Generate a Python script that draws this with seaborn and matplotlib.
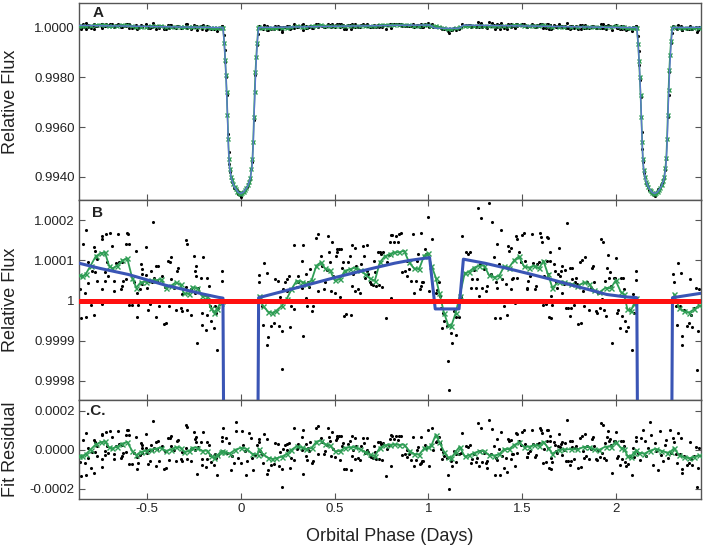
import numpy as np
import pandas as pd
import matplotlib
matplotlib.use("Agg")
import matplotlib.pyplot as plt
import seaborn as sns

# ---------------- data (phase in days, flux offsets in ppm) ----------------
x_ticks = [-0.5, 0, 0.5, 1, 1.5, 2]
x_tick_labels = ["-0.5", "0", "0.5", "1", "1.5", "2"]
a_ticks = [0.9940, 0.9960, 0.9980, 1.0000]
a_tick_labels = ["0.9940", "0.9960", "0.9980", "1.0000"]
b_ticks = [0.9998, 0.9999, 1.0, 1.0001, 1.0002]
b_tick_labels = ["0.9998", "0.9999", "1", "1.0001", "1.0002"]
c_ticks = [-0.0002, 0.0, 0.0002]
c_tick_labels = ["-0.0002", "0.0000", "0.0002"]

# model light curve (blue line): vertices
model_phase = [-0.862, -0.75, -0.6, -0.4, -0.3, -0.2, -0.12, -0.095, -0.088, -0.080, -0.072,
               -0.066, -0.060, -0.050, -0.035, -0.015, 0.0, 0.015, 0.035, 0.050, 0.060, 0.066,
               0.072, 0.080, 0.088, 0.095, 0.3, 0.5, 0.7, 0.82, 0.9, 1.006, 1.036, 1.163, 1.186,
               1.3, 1.42, 1.55, 1.65, 1.75, 1.855, 1.95, 2.05, 2.11, 2.117, 2.125, 2.133, 2.139,
               2.145, 2.155, 2.170, 2.190, 2.205, 2.220, 2.240, 2.255, 2.265, 2.271, 2.277,
               2.285, 2.293, 2.300, 2.452]
model_ppm = [93, 80, 65, 38, 27, 16, 8, 6, -600, -1700, -3300, -4800, -5600, -6100, -6400,
             -6620, -6680, -6620, -6400, -6100, -5600, -4800, -3300, -1700, -600, 7, 32, 57,
             80, 93, 100, 107, -21, -21, 103, 93, 80, 65, 53, 40, 27, 15, 9, 7, -600, -1700,
             -3300, -4800, -5600, -6100, -6400, -6620, -6680, -6620, -6400, -6100, -5600,
             -4800, -3300, -1700, -600, 7, 18]

# out-of-transit observations (black dots), (phase, ppm)
obs_part1 = [(-0.857, 28), (-0.853, -44), (-0.841, 141), (-0.844, 60), (-0.823, 175), (-0.830, 19),
             (-0.823, -41), (-0.812, 95), (-0.816, 43), (-0.800, -10), (-0.795, 74), (-0.782, 133),
             (-0.779, 124), (-0.782, -35), (-0.777, 70), (-0.764, 103), (-0.768, 49), (-0.741, 162),
             (-0.738, 154), (-0.741, -8), (-0.738, 29), (-0.724, 70), (-0.724, 49), (-0.720, 166),
             (-0.711, 95), (-0.706, 61), (-0.699, 169), (-0.684, 137), (-0.677, 49), (-0.676, 24),
             (-0.667, 93), (-0.653, 166), (-0.649, 97), (-0.640, 28), (-0.635, 95), (-0.631, 36),
             (-0.626, 49), (-0.614, 141), (-0.608, 169), (-0.614, 53), (-0.596, 141), (-0.599, 166),
             (-0.596, -10), (-0.578, -11), (-0.569, 45), (-0.557, 123), (-0.551, 19), (-0.551, -41),
             (-0.548, -10), (-0.534, 91), (-0.528, 66), (-0.525, 78), (-0.525, 40), (-0.537, 28),
             (-0.507, 133), (-0.507, 63), (-0.498, 32), (-0.493, -23), (-0.489, 49), (-0.486, -8),
             (-0.480, 74), (-0.475, 45), (-0.468, 196), (-0.463, 55), (-0.454, 87), (-0.450, -41),
             (-0.445, 49), (-0.440, 87), (-0.436, -14), (-0.418, 61), (-0.409, -58), (-0.404, 34),
             (-0.397, -55), (-0.386, 99), (-0.383, -14), (-0.379, 95), (-0.374, 108), (-0.374, 53),
             (-0.356, 32), (-0.347, -23), (-0.338, 74), (-0.333, 82), (-0.321, -18), (-0.315, 15),
             (-0.312, -27), (-0.294, 152), (-0.285, 141), (-0.285, -23), (-0.290, 34), (-0.267, 29),
             (-0.264, -35), (-0.250, 112), (-0.244, 74), (-0.241, 87), (-0.244, 19), (-0.241, 61),
             (-0.232, -105), (-0.227, 32), (-0.214, 55), (-0.209, -31), (-0.205, -60), (-0.200, 108),
             (-0.187, -73), (-0.182, -35), (-0.179, 55), (-0.170, 36), (-0.166, -14), (-0.161, -52),
             (-0.143, -69), (-0.138, -13), (-0.134, -31), (-0.125, -123), (-0.120, -18),
             (-0.102, 74), (-0.102, 49)]
obs_part2 = [(0.096, 63), (0.096, 45), (0.125, 93), (0.137, 68), (0.102, 1), (0.111, -13), (0.119, -60),
             (0.143, -90), (0.141, -111), (0.160, -63), (0.178, -56), (0.182, 53), (0.196, 49),
             (0.203, -63), (0.208, 9), (0.221, -77), (0.222, -170), (0.226, 29), (0.235, 46),
             (0.244, 24), (0.247, 53), (0.256, 61), (0.261, -65), (0.270, -13), (0.284, 139),
             (0.284, -21), (0.297, 34), (0.306, 45), (0.306, 61), (0.324, 99), (0.324, 32),
             (0.329, 139), (0.329, -88), (0.345, 7), (0.350, 66), (0.355, -13), (0.359, 46),
             (0.363, 34), (0.368, 78), (0.380, -27), (0.386, -14), (0.403, 155), (0.409, 166),
             (0.412, 24), (0.426, 110), (0.434, 87), (0.444, 28), (0.448, 45), (0.457, 76),
             (0.466, 162), (0.469, 120), (0.474, 97), (0.483, 24), (0.487, 147), (0.492, 61),
             (0.501, 19), (0.505, 110), (0.510, 120), (0.515, 129), (0.522, 129), (0.528, 9),
             (0.533, 129), (0.537, 80), (0.545, 97), (0.551, -38), (0.563, -33), (0.572, 95),
             (0.581, 110), (0.586, -35), (0.590, 139), (0.593, 36), (0.599, 66), (0.608, 130),
             (0.611, 24), (0.616, 87), (0.625, 28), (0.634, 19), (0.643, 91), (0.652, 137),
             (0.657, 112), (0.664, 57), (0.670, 74), (0.675, 139), (0.679, 66), (0.688, 45),
             (0.696, 40), (0.705, 38), (0.711, 99), (0.714, 71), (0.723, 36), (0.732, 122),
             (0.735, 38), (0.741, 122), (0.746, 116), (0.753, 34), (0.758, 120), (0.776, -44),
             (0.781, 95), (0.789, 113), (0.794, 145), (0.799, 7), (0.799, 164)]
obs_part3 = [(0.808, 164), (0.817, 147), (0.826, 162), (0.838, 145), (0.843, 166), (0.856, 169),
             (0.861, 70), (0.874, 74), (0.884, 99), (0.888, 61), (0.897, 78), (0.906, 49),
             (0.920, 166), (0.923, 19), (0.932, 49), (0.941, 99), (0.945, 116), (0.955, 28),
             (0.959, 36), (0.962, 169), (0.968, 45), (0.973, 46), (0.982, 129), (0.985, 116),
             (0.998, 208), (1.003, 24), (1.021, 154), (1.026, 21), (1.039, 19), (1.048, 26),
             (1.056, 45), (1.062, 11), (1.065, -18), (1.074, -69), (1.079, -31), (1.083, -52),
             (1.097, -63), (1.104, -150), (1.110, -224), (1.119, -81), (1.124, -105), (1.136, -27),
             (1.145, -41), (1.149, -86), (1.163, -41), (1.172, 9), (1.181, 162), (1.198, 120),
             (1.211, 116), (1.221, 122), (1.225, 32), (1.234, 53), (1.243, 76), (1.252, 32),
             (1.257, 53), (1.264, 231), (1.269, 11), (1.275, 91), (1.282, 206), (1.287, 32),
             (1.296, 78), (1.305, 24), (1.310, 36), (1.314, -4), (1.323, 244), (1.332, 66),
             (1.340, 196), (1.349, 108), (1.353, -44), (1.358, 45), (1.363, 32), (1.367, 141),
             (1.376, 91), (1.381, -44), (1.385, 175), (1.394, 53), (1.403, -13), (1.411, 40),
             (1.420, -35), (1.424, 137), (1.429, 124), (1.438, 130), (1.442, 28), (1.447, 53),
             (1.452, 57), (1.459, -6), (1.465, 160), (1.470, 154), (1.474, 57), (1.482, 120),
             (1.491, 95), (1.500, 164), (1.509, 169), (1.513, 99), (1.523, 29), (1.527, 32),
             (1.530, 49), (1.541, 61), (1.553, 166), (1.559, 93), (1.566, 28), (1.571, 36),
             (1.580, 91), (1.589, 95), (1.594, 169), (1.601, 158), (1.607, 145), (1.612, -10),
             (1.616, 61), (1.624, -8), (1.633, 158), (1.637, 66), (1.642, -41), (1.647, 99)]
obs_part4 = [(1.633, 99), (1.639, 155), (1.646, 122), (1.651, 11), (1.657, -10), (1.651, -44),
             (1.669, 91), (1.674, 74), (1.678, 45), (1.687, 32), (1.692, 66), (1.696, 130),
             (1.699, 60), (1.705, 74), (1.710, 87), (1.713, 19), (1.722, 40), (1.728, 76),
             (1.735, -18), (1.740, 194), (1.745, -18), (1.752, 82), (1.752, -39), (1.758, -18),
             (1.763, 82), (1.767, 53), (1.776, -10), (1.781, 45), (1.788, 57), (1.793, 40),
             (1.799, -58), (1.806, 95), (1.811, -56), (1.816, 102), (1.823, 24), (1.829, -14),
             (1.834, 108), (1.841, -2), (1.846, 45), (1.855, -23), (1.864, 32), (1.873, 82),
             (1.877, 87), (1.882, 45), (1.891, -27), (1.900, -31), (1.905, 19), (1.912, -18),
             (1.918, 154), (1.923, 3), (1.930, 145), (1.935, -23), (1.941, 49), (1.948, -39),
             (1.953, 82), (1.958, 113), (1.962, 57), (1.965, 71), (1.971, 36), (1.980, -105),
             (1.988, 57), (1.994, 55), (2.001, 105), (2.006, -31), (2.012, -23), (2.019, -69),
             (2.024, 57), (2.029, -38), (2.036, 57), (2.042, 29), (2.047, -52), (2.054, -77),
             (2.065, -66), (2.072, -23), (2.083, -123), (2.090, 15), (2.095, -31), (2.104, 74),
             (2.107, 51), (2.304, 66), (2.308, 46), (2.331, 93), (2.343, 68), (2.320, -13),
             (2.326, -60), (2.338, -14), (2.349, -88), (2.352, -111), (2.361, -23), (2.379, -63),
             (2.388, -56), (2.391, 53), (2.397, -35), (2.406, -65), (2.415, -18), (2.423, 32),
             (2.432, -172), (2.438, -75), (2.441, 28)]

# in-transit observations (black dots in panel A)
transit1_obs = [(-0.090, -300), (-0.085, -900), (-0.082, -1400), (-0.078, -2000), (-0.074, -2700),
                (-0.069, -4300), (-0.065, -5000), (-0.061, -5500), (-0.056, -5800), (-0.050, -6050),
                (-0.045, -6200), (-0.040, -6300), (-0.034, -6450), (-0.028, -6500), (-0.022, -6550),
                (-0.016, -6700), (-0.010, -6600), (-0.004, -6750), (0.002, -6800), (0.008, -6650),
                (0.014, -6600), (0.020, -6550), (0.026, -6450), (0.032, -6400), (0.038, -6300),
                (0.044, -6200), (0.050, -6100), (0.056, -5700), (0.061, -5400), (0.066, -4600),
                (0.070, -3700), (0.074, -2600), (0.078, -1900), (0.082, -1200), (0.086, -700),
                (0.090, -250)]
transit2_obs = [(2.115, -350), (2.120, -950), (2.123, -1500), (2.127, -2100), (2.131, -2800),
                (2.136, -4200), (2.140, -4900), (2.144, -5400), (2.149, -5850), (2.155, -6000),
                (2.160, -6250), (2.165, -6350), (2.171, -6400), (2.177, -6550), (2.183, -6600),
                (2.189, -6650), (2.195, -6700), (2.201, -6720), (2.207, -6780), (2.213, -6650),
                (2.219, -6600), (2.225, -6500), (2.231, -6450), (2.237, -6350), (2.243, -6250),
                (2.249, -6150), (2.255, -6050), (2.261, -5750), (2.266, -5300), (2.271, -4500),
                (2.275, -3600), (2.279, -2700), (2.283, -1800), (2.287, -1100), (2.291, -600),
                (2.295, -200)]

# binned data (green crosses)
green_pre_phase = [-0.862, -0.844, -0.826, -0.800, -0.773, -0.747, -0.724, -0.702, -0.684, -0.658,
                   -0.631, -0.605, -0.578, -0.557, -0.534, -0.507, -0.480, -0.454, -0.427, -0.400,
                   -0.374, -0.347, -0.321, -0.303, -0.276, -0.258, -0.232, -0.205, -0.179, -0.161,
                   -0.143, -0.125, -0.108, -0.099]
green_pre_ppm = [63, 60, 66, 87, 110, 118, 120, 87, 80, 87, 100, 105, 55, 32, 45, 47, 50, 50, 53, 32,
                 36, 45, 40, 18, 16, 33, 30, 11, 10, -18, -30, -20, -5, 0]
green_mid_phase = [0.096, 0.119, 0.146, 0.167, 0.190, 0.217, 0.244, 0.270, 0.297, 0.324, 0.350,
                   0.377, 0.403, 0.426, 0.448, 0.474, 0.501, 0.528, 0.554, 0.581, 0.608, 0.634,
                   0.661, 0.688, 0.714, 0.741, 0.767, 0.794, 0.817, 0.843, 0.870, 0.897, 0.923,
                   0.950, 0.977, 0.998, 1.016, 1.039, 1.058, 1.083, 1.104, 1.122, 1.145, 1.166,
                   1.193, 1.216, 1.243, 1.269, 1.296, 1.323, 1.349, 1.376, 1.403, 1.429, 1.456,
                   1.482, 1.509, 1.536, 1.562, 1.589, 1.612, 1.637, 1.660, 1.696, 1.722, 1.758,
                   1.793, 1.829, 1.855, 1.882, 1.909, 1.944, 1.971, 1.997, 2.024, 2.042, 2.060,
                   2.077, 2.095, 2.107]
green_mid_ppm = [11, -14, -28, -31, -25, -14, 3, 28, 49, 47, 42, 50, 87, 95, 80, 76, 50, 53, 74, 78,
                 82, 76, 66, 55, 49, 95, 110, 116, 120, 120, 124, 95, 80, 78, 112, 118, 87, 57, 18,
                 -31, -60, -63, -31, 11, 68, 72, 82, 87, 87, 63, 58, 61, 85, 82, 100, 110, 85, 82,
                 87, 80, 99, 65, 32, 47, 45, 42, 36, 45, 42, 25, 20, 32, 30, 50, 22, 15, -22, -27,
                 -8, 5]
green_post_phase = [2.308, 2.335, 2.361, 2.388, 2.415, 2.441]
green_post_ppm = [15, -18, -27, -30, -22, -12]

green_t1_phase = [-0.095, -0.088, -0.083, -0.079, -0.075, -0.071, -0.067, -0.063, -0.058, -0.052,
                  -0.046, -0.040, -0.033, -0.026, -0.019, -0.012, -0.005, 0.002, 0.009, 0.016,
                  0.023, 0.030, 0.037, 0.044, 0.051, 0.057, 0.062, 0.066, 0.070, 0.074, 0.078,
                  0.082, 0.087, 0.093]
green_t1_ppm = [0, -600, -1300, -1900, -2600, -3500, -4500, -5300, -5700, -6000, -6150, -6300,
                -6400, -6500, -6600, -6640, -6680, -6700, -6650, -6620, -6550, -6450, -6350, -6200,
                -6050, -5700, -5300, -4600, -3600, -2600, -1800, -1200, -600, 0]
green_t2_phase = [2.110, 2.117, 2.122, 2.126, 2.130, 2.134, 2.138, 2.142, 2.147, 2.153, 2.159,
                  2.165, 2.172, 2.179, 2.186, 2.193, 2.200, 2.207, 2.214, 2.221, 2.228, 2.235,
                  2.242, 2.249, 2.256, 2.262, 2.267, 2.271, 2.275, 2.279, 2.283, 2.287, 2.292, 2.298]
green_t2_ppm = [0, -650, -1350, -2000, -2700, -3600, -4600, -5300, -5750, -6000, -6200, -6300,
                -6420, -6520, -6580, -6650, -6700, -6690, -6660, -6600, -6540, -6460, -6330, -6180,
                -6000, -5650, -5250, -4500, -3500, -2500, -1700, -1100, -550, 0]

# residuals inside transits (panel C)
resid_t1_phase = [-0.095, -0.081, -0.072, -0.063, -0.054, -0.049, -0.037, -0.028, -0.024, -0.014,
                  -0.001, 0.008, 0.011, 0.022, 0.029, 0.034, 0.043, 0.052, 0.061, 0.065, 0.075, 0.088]
resid_t1_ppm = [111, 60, -17, 34, -103, -34, -68, 142, 94, -43, -68, 94, 26, -9, -128, -60, 86, 60,
                -43, -103, -26, 26]
resid_t2_phase = [2.116, 2.125, 2.134, 2.143, 2.152, 2.161, 2.170, 2.178, 2.187, 2.196, 2.205,
                  2.214, 2.223, 2.232, 2.241, 2.250, 2.258, 2.267, 2.276, 2.285, 2.294]
resid_t2_ppm = [-17, -51, 60, 103, 43, -34, 9, 142, 77, -77, 34, -9, -103, 94, -26, -60, 26, 51,
                -43, 103, -17]
green_rt1_phase = [-0.09, -0.06, -0.03, 0.0, 0.03, 0.06, 0.09]
green_rt1_ppm = [-10, -20, 0, 10, 5, -20, -25]
green_rt2_phase = [2.12, 2.15, 2.18, 2.21, 2.24, 2.27, 2.29]
green_rt2_ppm = [-15, -20, -5, 5, -5, -15, -10]

# ---------------- tables ----------------
PPM = 1e-6
model = pd.DataFrame({"phase": model_phase, "flux": 1 + np.array(model_ppm) * PPM})

obs = pd.DataFrame(obs_part1 + obs_part2 + obs_part3 + obs_part4, columns=["phase", "ppm"])
obs["flux"] = 1 + obs["ppm"] * PPM
obs["resid"] = (obs["ppm"] - np.interp(obs["phase"], model_phase, model_ppm)) * PPM

tobs = pd.DataFrame(transit1_obs + transit2_obs, columns=["phase", "ppm"])
tobs["flux"] = 1 + tobs["ppm"] * PPM
obsA = pd.concat([obs[["phase", "flux"]], tobs[["phase", "flux"]]], ignore_index=True)

gB = pd.concat([
    pd.DataFrame({"phase": green_pre_phase, "ppm": green_pre_ppm, "seg": 0}),
    pd.DataFrame({"phase": green_mid_phase, "ppm": green_mid_ppm, "seg": 1}),
    pd.DataFrame({"phase": green_post_phase, "ppm": green_post_ppm, "seg": 2}),
], ignore_index=True)
gB["flux"] = 1 + gB["ppm"] * PPM
gB["resid"] = (gB["ppm"] - np.interp(gB["phase"], model_phase, model_ppm)) * PPM

gT = pd.concat([
    pd.DataFrame({"phase": green_t1_phase, "ppm": green_t1_ppm}),
    pd.DataFrame({"phase": green_t2_phase, "ppm": green_t2_ppm}),
], ignore_index=True)
gT["flux"] = 1 + gT["ppm"] * PPM
gA = pd.concat([gB[["phase", "flux"]], gT[["phase", "flux"]]], ignore_index=True)
gA = gA.sort_values("phase").reset_index(drop=True)

rT = pd.DataFrame({"phase": resid_t1_phase + resid_t2_phase,
                   "resid": (np.array(resid_t1_ppm + resid_t2_ppm)) * PPM})
resC = pd.concat([obs[["phase", "resid"]], rT], ignore_index=True)
gRT = pd.DataFrame({"phase": green_rt1_phase + green_rt2_phase,
                    "resid": np.array(green_rt1_ppm + green_rt2_ppm) * PPM})
gC = pd.concat([gB[["phase", "resid"]], gRT], ignore_index=True).sort_values("phase")

# ---------------- figure ----------------
sns.set_theme(style="ticks")
plt.rcParams["font.family"] = ["Liberation Sans", "DejaVu Sans"]
plt.rcParams["axes.unicode_minus"] = False

GREEN = "#2f9e55"
BLUE = "#3a55b5"
fig = plt.figure(figsize=(7.06, 5.47), dpi=100)
L, W = 79 / 706, 622 / 706
axA = fig.add_axes([L, 1 - 200 / 547, W, 197 / 547])
axB = fig.add_axes([L, 1 - 400 / 547, W, 200 / 547])
axC = fig.add_axes([L, 1 - 498.7 / 547, W, 98.7 / 547])

dot_kw = dict(color="black", s=5, linewidth=0, legend=False)
gline_kw = dict(color=GREEN, marker="x", markersize=3.6, markeredgewidth=1.0,
                markeredgecolor=GREEN, markerfacecolor=GREEN,
                linewidth=1.3, estimator=None, legend=False)

# Panel A
sns.scatterplot(data=obsA, x="phase", y="flux", ax=axA, zorder=2, **dot_kw)
sns.lineplot(data=gA, x="phase", y="flux", ax=axA, sort=False, zorder=3,
             **{**gline_kw, "linewidth": 1.2, "markersize": 3.0})
sns.lineplot(data=model, x="phase", y="flux", ax=axA, sort=False, estimator=None,
             color="#5b78cc", linewidth=1.0, zorder=4)
axA.set_ylim(0.99306, 1.000995)
axA.set_yticks(a_ticks, a_tick_labels)

# Panel B
sns.scatterplot(data=obs, x="phase", y="flux", ax=axB, zorder=2, **dot_kw)
sns.lineplot(data=gB, x="phase", y="flux", units="seg", ax=axB, sort=False, zorder=3, **gline_kw)
sns.lineplot(data=model, x="phase", y="flux", ax=axB, sort=False, estimator=None,
             color=BLUE, linewidth=2.2, zorder=4)
axB.axhline(1.0, color="#ff1010", linewidth=3.6, zorder=5)
axB.set_ylim(0.999752, 1.0002505)
axB.set_yticks(b_ticks, b_tick_labels)

# Panel C
sns.scatterplot(data=resC, x="phase", y="resid", ax=axC, zorder=2, **dot_kw)
sns.lineplot(data=gC, x="phase", y="resid", ax=axC, sort=False, zorder=3, **gline_kw)
axC.set_ylim(-0.000251, 0.000255)
axC.set_yticks(c_ticks, c_tick_labels)

for ax in (axA, axB, axC):
    ax.set_xlim(-0.862, 2.452)
    ax.set_xticks(x_ticks, x_tick_labels)
    ax.tick_params(direction="in", top=True, right=True, length=4, width=0.8,
                   color="#555555", labelcolor="#222222", labelsize=9.5, pad=3)
    for sp in ax.spines.values():
        sp.set_color("#555555")
        sp.set_linewidth(1.0)
    ax.set_xlabel("")
    ax.set_ylabel("")
for ax in (axA, axB):
    ax.tick_params(labelbottom=False)

axA.set_ylabel("Relative Flux", fontsize=13, color="#222222")
axB.set_ylabel("Relative Flux", fontsize=13, color="#222222")
axC.set_ylabel("Fit Residual", fontsize=13, color="#222222")
for ax in (axA, axB, axC):
    ax.yaxis.set_label_coords(-0.097, 0.5)
axC.set_xlabel("Orbital Phase (Days)", fontsize=13, color="#222222")
axC.xaxis.set_label_coords(0.5, -0.30)

axA.text(0.022, 0.985, "A", transform=axA.transAxes, ha="left", va="top",
         fontsize=11, fontweight="bold", color="#222222")
axB.text(0.021, 0.97, "B", transform=axB.transAxes, ha="left", va="top",
         fontsize=11, fontweight="bold", color="#222222")
axC.text(0.012, 0.96, ".C.", transform=axC.transAxes, ha="left", va="top",
         fontsize=11, fontweight="bold", color="#222222")

fig.savefig("out.png", dpi=100)
